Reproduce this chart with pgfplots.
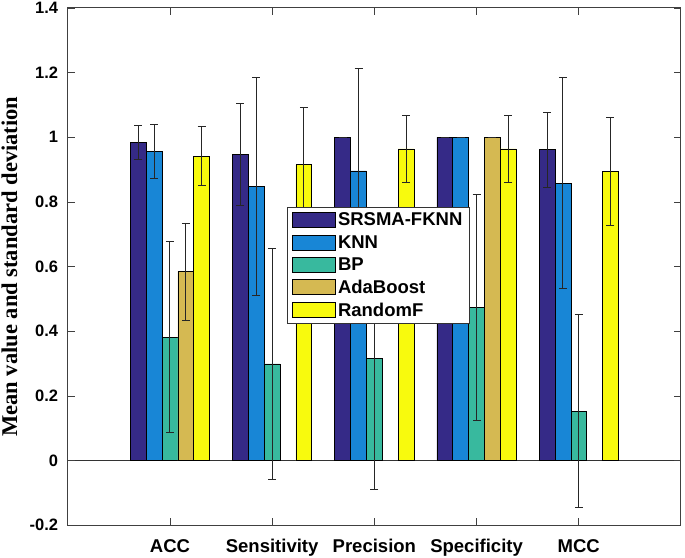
\documentclass[border=0pt]{standalone}
\usepackage{fontspec}
\setmainfont{Liberation Sans}
\newfontfamily\seriffont{Liberation Serif}
\usepackage{pgfplots}
\pgfplotsset{compat=1.18}
\definecolor{c1}{RGB}{53,42,135}
\definecolor{c2}{RGB}{24,134,214}
\definecolor{c3}{RGB}{56,185,158}
\definecolor{c4}{RGB}{213,185,82}
\definecolor{c5}{RGB}{248,250,13}
\pgfplotsset{
  mybar/.style={draw=black, line width=0.7pt,
    /pgfplots/error bars/y dir=both,
    /pgfplots/error bars/y explicit,
    /pgfplots/error bars/error bar style={black!85, line width=0.9pt},
    /pgfplots/error bars/error mark options={rotate=90, mark size=4pt, black!85, line width=0.9pt}},
}
\begin{document}
\begin{tikzpicture}
\begin{axis}[
  at={(0,0)}, anchor=south west,
  scale only axis, width=613pt, height=517pt,
  ybar=0pt, bar width=0.155,
  xmin=0, xmax=6, ymin=-0.2, ymax=1.4,
  xtick={1,2,3,4,5},
  xticklabels={ACC,Sensitivity,Precision,Specificity,MCC},
  ytick={-0.2,0,0.2,0.4,0.6,0.8,1,1.2,1.4},
  yticklabels={-0.2,0,0.2,0.4,0.6,0.8,1,1.2,1.4},
  extra y ticks={0}, extra y tick labels={},
  extra y tick style={grid=major, major grid style={black!80, line width=0.8pt}},
  tick align=inside, major tick length=7pt,
  tick style={black!75, line width=0.8pt},
  axis line style={black!75, line width=1pt},
  xticklabel style={font=\fontsize{18.5}{21}\selectfont\bfseries, inner sep=0pt, anchor=north, yshift=-14pt},
  yticklabel style={font=\fontsize{16.5}{20}\selectfont\bfseries, inner sep=0pt, anchor=east, xshift=-9.5pt},
  ylabel={\seriffont\bfseries Mean value and standard deviation},
  ylabel style={font=\fontsize{22.5}{24}\selectfont, at={(axis description cs:-0.0827,0.5)}, anchor=base, inner sep=0pt},
  legend image code/.code={\draw[#1, draw=black, line width=0.8pt] (0pt,-7.5pt) rectangle (43pt,7.5pt);},
  legend style={at={(0.358,0.616)}, anchor=north west, draw=black!80, line width=0.8pt,
    font=\fontsize{18.5}{20}\selectfont\bfseries, row sep=4pt, inner xsep=4pt, inner ysep=4pt,
    cells={anchor=west}, nodes={inner xsep=2.5pt}},
]
\addplot[mybar, fill=c1] coordinates {
  (1,0.983) +- (0,0.053)
  (2,0.947) +- (0,0.158)
  (3,1.000) +- (0,0)
  (4,1.000) +- (0,0)
  (5,0.962) +- (0,0.116)
};
\addplot[mybar, fill=c2] coordinates {
  (1,0.957) +- (0,0.083)
  (2,0.848) +- (0,0.337)
  (3,0.896) +- (0,0.317)
  (4,1.000) +- (0,0)
  (5,0.858) +- (0,0.326)
};
\addplot[mybar, fill=c3] coordinates {
  (1,0.382) +- (0,0.296)
  (2,0.299) +- (0,0.357)
  (3,0.315) +- (0,0.403)
  (4,0.474) +- (0,0.350)
  (5,0.153) +- (0,0.298)
};
\addplot[mybar, fill=c4] coordinates {
  (1,0.585) +- (0,0.150)
  (4,1.000) +- (0,0)
};
\addplot[mybar, fill=c5] coordinates {
  (1,0.942) +- (0,0.092)
  (2,0.915) +- (0,0.178)
  (3,0.964) +- (0,0.105)
  (4,0.964) +- (0,0.105)
  (5,0.894) +- (0,0.166)
};
\legend{SRSMA-FKNN,KNN,BP,AdaBoost,RandomF}
\end{axis}
\pgfresetboundingbox
\path (-67.7pt,-32pt) rectangle (617pt,525pt);
\end{tikzpicture}
\end{document}
